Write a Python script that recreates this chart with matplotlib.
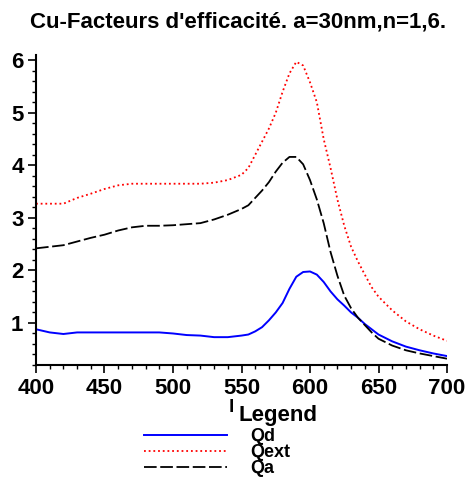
import matplotlib
matplotlib.use("Agg")
import matplotlib.pyplot as plt
from matplotlib.ticker import MultipleLocator

plt.rcParams['font.family'] = ['Liberation Sans', 'DejaVu Sans']
plt.rcParams['font.weight'] = 'bold'

# wavelength (nm)
wl = [400, 410, 420, 430, 440, 450, 460, 470, 480, 490, 500, 510, 520, 530, 540,
      550, 555, 560, 565, 570, 575, 580, 585, 590, 595, 600, 605, 610, 615, 620,
      625, 630, 635, 640, 645, 650, 660, 670, 680, 690, 700]

qd = [0.88, 0.82, 0.79, 0.82, 0.82, 0.82, 0.82, 0.82, 0.82, 0.82, 0.80, 0.77, 0.76, 0.73, 0.73,
      0.76, 0.78, 0.84, 0.92, 1.05, 1.20, 1.38, 1.65, 1.88, 1.97, 1.98, 1.92, 1.78, 1.60, 1.45,
      1.33, 1.20, 1.10, 0.98, 0.88, 0.78, 0.65, 0.55, 0.48, 0.42, 0.37]

qext = [3.27, 3.27, 3.27, 3.38, 3.46, 3.55, 3.62, 3.65, 3.65, 3.65, 3.65, 3.65, 3.65, 3.67, 3.72,
        3.82, 3.95, 4.20, 4.45, 4.70, 5.00, 5.40, 5.75, 5.97, 5.90, 5.58, 5.20, 4.50, 3.95, 3.35,
        2.85, 2.45, 2.17, 1.92, 1.68, 1.50, 1.24, 1.03, 0.88, 0.76, 0.66]

qa = [2.42, 2.45, 2.48, 2.55, 2.62, 2.68, 2.76, 2.82, 2.85, 2.85, 2.86, 2.88, 2.90, 2.97, 3.06,
      3.17, 3.24, 3.38, 3.52, 3.68, 3.88, 4.05, 4.16, 4.16, 4.02, 3.72, 3.35, 2.90, 2.35, 1.90,
      1.52, 1.28, 1.10, 0.96, 0.82, 0.70, 0.57, 0.48, 0.42, 0.37, 0.32]

fig = plt.figure(figsize=(4.7, 4.8), dpi=100)
ax = fig.add_axes([36/470, 1 - 365/480, (447-36)/470, (365-55)/480])

l1, = ax.plot(wl, qd, color='blue', lw=1.4, label='Qd')
l2, = ax.plot(wl, qext, color='red', lw=1.3, ls=(0, (1, 1.6)), label='Qext')
l3, = ax.plot(wl, qa, color='black', lw=1.3, ls=(0, (7, 2)), label='Qa')

ax.set_xlim(400, 700)
ax.set_ylim(0.2, 6.1)
ax.xaxis.set_major_locator(MultipleLocator(50))
ax.xaxis.set_minor_locator(MultipleLocator(10))
ax.yaxis.set_major_locator(MultipleLocator(1))
ax.yaxis.set_minor_locator(MultipleLocator(0.2))
ax.spines['top'].set_visible(False)
ax.spines['right'].set_visible(False)
ax.spines['left'].set_linewidth(1.5)
ax.spines['bottom'].set_linewidth(1.5)
ax.tick_params(which='major', length=6, width=1.2, labelsize=16, pad=3)
ax.tick_params(which='minor', length=3, width=1.0)

fig.text(238/470, 1 - 22/480, "Cu-Facteurs d'efficacité. a=30nm,n=1,6.",
         ha='center', va='center', fontsize=16, fontweight='bold')

fig.text(229/470, 1 - 408/480, 'l', ha='left', va='center', fontsize=14, fontweight='bold')
fig.text(239/470, 1 - 415/480, 'Legend', ha='left', va='center', fontsize=16, fontweight='bold')

fig.legend(handles=[l1, l2, l3], loc='upper left',
           bbox_to_anchor=(144/470, 1 - 428/480), frameon=False,
           fontsize=13, handlelength=4.6, handletextpad=1.3,
           labelspacing=-0.05, borderpad=0, borderaxespad=0)

fig.savefig('out.png', dpi=100)
